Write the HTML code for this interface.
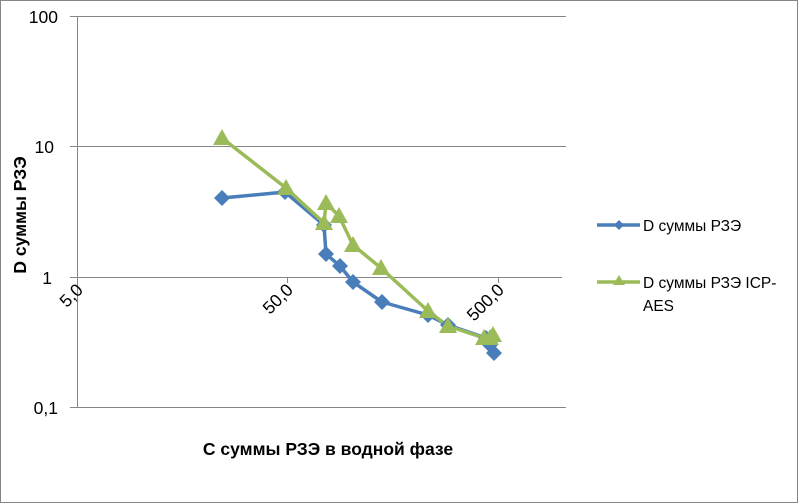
<!DOCTYPE html>
<html><head><meta charset="utf-8"><style>
body{margin:0;background:#fff}
svg{display:block;font-family:"Liberation Sans","DejaVu Sans",sans-serif}
</style></head><body>
<svg width="799" height="504" viewBox="0 0 799 504" xmlns="http://www.w3.org/2000/svg">
<rect x="0.5" y="0.5" width="797" height="502" fill="#fff" stroke="#868686"/>
<g stroke="#868686" stroke-width="1">
<line x1="70" y1="16.5" x2="566" y2="16.5"/>
<line x1="70" y1="146.5" x2="566" y2="146.5"/>
<line x1="70" y1="407.5" x2="566" y2="407.5"/>
<line x1="77.5" y1="16" x2="77.5" y2="407"/>
<line x1="70" y1="277.5" x2="562" y2="277.5"/>
<line x1="287.5" y1="277" x2="287.5" y2="283"/>
<line x1="498.5" y1="277" x2="498.5" y2="283"/>
</g>
<g font-size="17.5" fill="#000" text-anchor="end">
<text x="58" y="23">100</text>
<text x="54" y="153">10</text>
<text x="52" y="284">1</text>
<text x="58" y="414">0,1</text>
</g>
<g font-size="17.5" fill="#000" text-anchor="end">
<text transform="translate(84,291) rotate(-45)">5,0</text>
<text transform="translate(294,291) rotate(-45)">50,0</text>
<text transform="translate(505,291) rotate(-45)">500,0</text>
</g>
<text transform="translate(26,215) rotate(-90)" font-size="17.5" font-weight="bold" text-anchor="middle">D суммы РЗЭ</text>
<text x="328" y="455" font-size="17.5" font-weight="bold" text-anchor="middle">С суммы РЗЭ в водной фазе</text>
<g fill="none" stroke-width="3.5" stroke-linejoin="round">
<polyline stroke="#4a7ebb" points="222,198 285,192 324,225 326,254 340,266 353,282 382,302 428,315 448,325 486,338 490,345 494,353"/>
<polyline stroke="#9bbb59" points="222,138 286,188 324,223 326,203 339,216 353,245 381,268 428,311 448,326 484,338 490,338 493,335"/>
</g>
<g fill="#4a7ebb">
<path d="M0,-8 L8,0 L0,8 L-8,0Z" transform="translate(222,198)"/>
<path d="M0,-8 L8,0 L0,8 L-8,0Z" transform="translate(285,192)"/>
<path d="M0,-8 L8,0 L0,8 L-8,0Z" transform="translate(324,225)"/>
<path d="M0,-8 L8,0 L0,8 L-8,0Z" transform="translate(326,254)"/>
<path d="M0,-8 L8,0 L0,8 L-8,0Z" transform="translate(340,266)"/>
<path d="M0,-8 L8,0 L0,8 L-8,0Z" transform="translate(353,282)"/>
<path d="M0,-8 L8,0 L0,8 L-8,0Z" transform="translate(382,302)"/>
<path d="M0,-8 L8,0 L0,8 L-8,0Z" transform="translate(428,315)"/>
<path d="M0,-8 L8,0 L0,8 L-8,0Z" transform="translate(448,325)"/>
<path d="M0,-8 L8,0 L0,8 L-8,0Z" transform="translate(486,338)"/>
<path d="M0,-8 L8,0 L0,8 L-8,0Z" transform="translate(490,345)"/>
<path d="M0,-8 L8,0 L0,8 L-8,0Z" transform="translate(494,353)"/>
</g>
<g fill="#9bbb59">
<path d="M0,-9 L9,7 L-9,7Z" transform="translate(222,138)"/>
<path d="M0,-9 L9,7 L-9,7Z" transform="translate(286,188)"/>
<path d="M0,-9 L9,7 L-9,7Z" transform="translate(324,223)"/>
<path d="M0,-9 L9,7 L-9,7Z" transform="translate(326,203)"/>
<path d="M0,-9 L9,7 L-9,7Z" transform="translate(339,216)"/>
<path d="M0,-9 L9,7 L-9,7Z" transform="translate(353,245)"/>
<path d="M0,-9 L9,7 L-9,7Z" transform="translate(381,268)"/>
<path d="M0,-9 L9,7 L-9,7Z" transform="translate(428,311)"/>
<path d="M0,-9 L9,7 L-9,7Z" transform="translate(448,326)"/>
<path d="M0,-9 L9,7 L-9,7Z" transform="translate(484,338)"/>
<path d="M0,-9 L9,7 L-9,7Z" transform="translate(490,338)"/>
<path d="M0,-9 L9,7 L-9,7Z" transform="translate(493,335)"/>
</g>
<line x1="597" y1="225" x2="640" y2="225" stroke="#4a7ebb" stroke-width="3.5"/>
<path d="M0,-5 L5,0 L0,5 L-5,0Z" transform="translate(619,225)" fill="#4a7ebb"/>
<line x1="597" y1="282" x2="640" y2="282" stroke="#9bbb59" stroke-width="3.5"/>
<path d="M0,-6 L6,4 L-6,4Z" transform="translate(619,281)" fill="#9bbb59"/>
<g font-size="15.5" fill="#000">
<text x="643" y="231">D суммы РЗЭ</text>
<text x="643" y="288">D суммы РЗЭ ICP-</text>
<text x="643" y="311">AES</text>
</g>
</svg>
</body></html>
